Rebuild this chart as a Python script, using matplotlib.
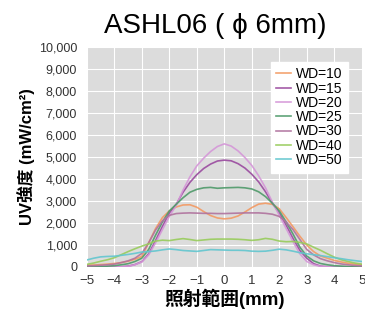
import matplotlib
matplotlib.use("Agg")
import matplotlib.pyplot as plt
from matplotlib.ticker import FuncFormatter

plt.rcParams['font.family'] = ['Liberation Sans', 'Noto Sans CJK JP', 'DejaVu Sans']

# ---------------- data (0.25 mm steps) ----------------
x = [-5, -4.75, -4.5, -4.25, -4, -3.75, -3.5, -3.25, -3, -2.75, -2.5,
     -2.25, -2, -1.75, -1.5, -1.25, -1, -0.75, -0.5, -0.25, 0,
     0.25, 0.5, 0.75, 1, 1.25, 1.5, 1.75, 2, 2.25, 2.5,
     2.75, 3, 3.25, 3.5, 3.75, 4, 4.25, 4.5, 4.75, 5]

wd10 = [80, 90, 110, 130, 160, 200, 260, 350, 480, 1100, 1750,
        2250, 2550, 2730, 2820, 2830, 2720, 2520, 2340, 2230, 2190,
        2220, 2320, 2500, 2700, 2860, 2900, 2850, 2650, 2250, 1830,
        1400, 1000, 700, 500, 400, 300, 230, 170, 130, 100]
wd15 = [0, 0, 0, 0, 0, 10, 40, 110, 240, 600, 1200,
        1850, 2450, 2850, 3400, 3850, 4200, 4480, 4680, 4820, 4860,
        4830, 4700, 4500, 4220, 3870, 3420, 2900, 2450, 1900, 1300,
        750, 400, 150, 40, 10, 0, 0, 0, 0, 0]
wd20 = [0, 0, 0, 0, 0, 10, 30, 100, 230, 550, 1100,
        1700, 2300, 2800, 3500, 4100, 4600, 4950, 5250, 5480, 5600,
        5500, 5280, 4980, 4620, 4150, 3600, 2950, 2350, 1750, 1150,
        600, 250, 100, 30, 10, 0, 0, 0, 0, 0]
wd25 = [0, 10, 20, 40, 60, 100, 150, 250, 400, 800, 1450,
        2050, 2550, 2850, 3150, 3400, 3530, 3600, 3620, 3580, 3600,
        3610, 3620, 3600, 3550, 3420, 3200, 2900, 2550, 2050, 1500,
        900, 500, 280, 160, 100, 60, 40, 20, 10, 0]
wd30 = [50, 60, 80, 100, 130, 200, 280, 400, 620, 1100, 1680,
        2100, 2350, 2430, 2450, 2460, 2450, 2440, 2440, 2430, 2430,
        2440, 2450, 2460, 2460, 2460, 2440, 2400, 2300, 2050, 1700,
        1250, 800, 550, 380, 280, 200, 140, 100, 70, 50]
wd40 = [120, 180, 260, 330, 420, 560, 700, 830, 950, 1050, 1180,
        1220, 1200, 1250, 1290, 1250, 1200, 1230, 1260, 1270, 1270,
        1270, 1260, 1240, 1210, 1240, 1300, 1260, 1180, 1150, 1160,
        1120, 1050, 900, 760, 600, 450, 330, 250, 180, 130]
wd50 = [320, 400, 460, 480, 490, 530, 570, 620, 680, 700, 730,
        780, 820, 790, 750, 730, 710, 750, 790, 780, 770,
        760, 760, 750, 720, 710, 720, 760, 810, 780, 720,
        650, 600, 560, 520, 470, 420, 380, 330, 290, 250]

series = [
    ("WD=10", wd10, "#f39a63"),
    ("WD=15", wd15, "#9a4a9f"),
    ("WD=20", wd20, "#d597d8"),
    ("WD=25", wd25, "#4f9a6a"),
    ("WD=30", wd30, "#b0739e"),
    ("WD=40", wd40, "#98cc5c"),
    ("WD=50", wd50, "#62c6cf"),
]

fig = plt.figure(figsize=(3.65, 3.11), dpi=100)
ax = fig.add_axes([0.238, 0.1415, 0.753, 0.707])
ax.set_facecolor("#dcdcdc")

for label, ys, c in series:
    ax.plot(x, ys, color=c, lw=1.2, alpha=0.9, label=label)

ax.set_xlim(-5, 5)
ax.set_ylim(0, 10000)
ax.set_xticks(range(-5, 6))
ax.set_yticks(range(0, 10001, 1000))
ax.yaxis.set_major_formatter(FuncFormatter(lambda v, p: f"{int(v):,}"))
ax.grid(True, color="white", lw=0.8)
ax.set_axisbelow(True)
for s in ax.spines.values():
    s.set_visible(False)
ax.tick_params(length=0, labelcolor="#333333")
ax.tick_params(axis="y", labelsize=9, pad=7)
ax.tick_params(axis="x", labelsize=9.5, pad=6)

ax.set_xlabel("照射範囲(mm)", fontsize=13.5, fontweight="bold", labelpad=1)
ax.set_ylabel("UV強度 (mW/cm²)", fontsize=12, fontweight="bold", labelpad=3)
fig.text(0.59, 0.915, "ASHL06 ( ϕ 6mm)", fontsize=20, ha="center", va="center")

leg = ax.legend(loc="upper right", fontsize=10, handlelength=1.1, handletextpad=0.3,
                labelspacing=0.02, borderpad=0.4, fancybox=False, framealpha=1,
                edgecolor="white", bbox_to_anchor=(0.975, 0.965))

fig.savefig("out.png", dpi=100)
